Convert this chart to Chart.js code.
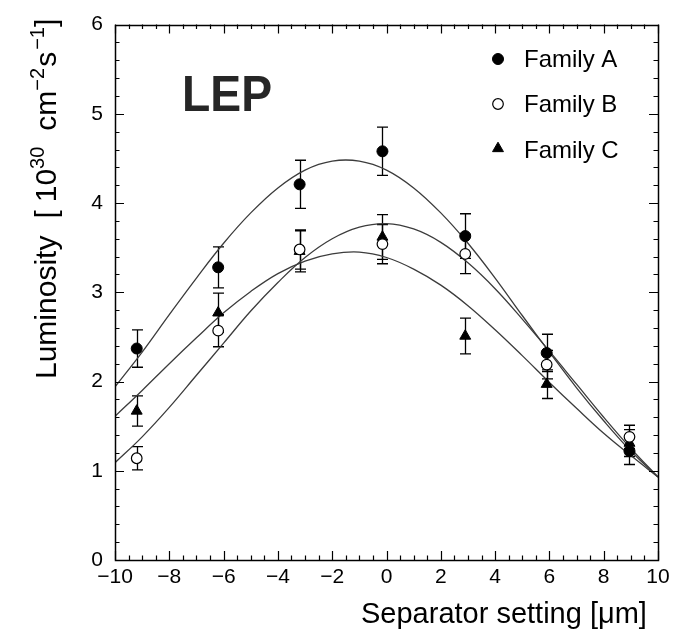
<!DOCTYPE html>
<html>
<head>
<meta charset="utf-8">
<script src="https://cdn.jsdelivr.net/npm/chart.js@4/dist/chart.umd.min.js"></script>
<style>
  html, body { margin: 0; padding: 0; background: #fff; }
  #wrap { width: 685px; height: 633px; }
</style>
</head>
<body>
<div id="wrap"><canvas id="c" width="685" height="633"></canvas></div>
<script>
// ---- data ----
const xPositions = [-9.2, -6.2, -3.2, -0.15, 2.9, 5.9, 8.95];
const familyA = [2.37, 3.28, 4.21, 4.58, 3.63, 2.32, 1.22];
const errA    = [0.21, 0.23, 0.27, 0.27, 0.25, 0.21, 0.15];
const familyB = [1.14, 2.57, 3.48, 3.54, 3.43, 2.19, 1.38];
const errB    = [0.13, 0.18, 0.22, 0.22, 0.22, 0.16, 0.13];
const familyC = [1.67, 2.77, 3.46, 3.62, 2.51, 1.97, 1.31];
const errC    = [0.17, 0.22, 0.23, 0.25, 0.20, 0.16, 0.15];

const fitX = [-10, -9, -8, -7, -6, -5, -4, -3, -2, -1, 0, 1, 2, 3, 4, 5, 6, 7, 8, 9, 10];
const fitA = [1.94, 2.33, 2.75, 3.16, 3.55, 3.89, 4.17, 4.37, 4.47, 4.47, 4.37, 4.17, 3.89, 3.55, 3.16, 2.74, 2.33, 1.93, 1.56, 1.22, 0.93];
const fitB = [1.09, 1.38, 1.71, 2.07, 2.43, 2.79, 3.11, 3.39, 3.60, 3.73, 3.77, 3.71, 3.56, 3.33, 3.04, 2.70, 2.34, 1.97, 1.60, 1.25, 0.93];
const fitC = [1.61, 1.90, 2.20, 2.49, 2.77, 3.01, 3.21, 3.35, 3.43, 3.45, 3.39, 3.26, 3.08, 2.85, 2.58, 2.29, 1.99, 1.70, 1.42, 1.17, 0.93];

const seriesNames = ['Family A', 'Family B', 'Family C'];
const xTickLabels = ['\u221210', '\u22128', '\u22126', '\u22124', '\u22122', '0', '2', '4', '6', '8', '10'];
const yTickLabels = ['0', '1', '2', '3', '4', '5', '6'];
const xTitle = 'Separator setting [\u03bcm]';
const yTitleParts = ['Luminosity', '[', '10', '30', 'cm', '\u22122', 's', '\u22121', ']'];
const panelLabel = 'LEP';

// ---- build datasets ----
const pts = (xs, ys) => xs.map((x, i) => ({ x: x, y: ys[i] }));
const FONT = "'Liberation Sans', Arial, Helvetica, sans-serif";
const CURVE = '#3c3c3c';

const markerStyles = [
  { pointStyle: 'circle', pointRadius: 5.5, backgroundColor: '#000', borderColor: '#000', borderWidth: 1 },
  { pointStyle: 'circle', pointRadius: 5.3, backgroundColor: '#fff', borderColor: '#000', borderWidth: 1.2 },
  { pointStyle: 'triangle', pointRadius: 6.3, backgroundColor: '#000', borderColor: '#000', borderWidth: 1 }
];
const seriesVals = [familyA, familyB, familyC];
const seriesErr = [errA, errB, errC];
const fits = [fitA, fitB, fitC];

const datasets = [];
seriesVals.forEach((vals, k) => {
  const m = markerStyles[k];
  datasets.push({
    label: seriesNames[k],
    data: pts(xPositions, vals),
    showLine: false,
    pointStyle: m.pointStyle,
    pointRadius: m.pointRadius,
    pointBackgroundColor: m.backgroundColor,
    pointBorderColor: m.borderColor,
    pointBorderWidth: m.borderWidth,
    pointHoverRadius: m.pointRadius
  });
});
fits.forEach((f, k) => {
  datasets.push({
    label: seriesNames[k] + ' fit',
    data: pts(fitX, f),
    showLine: true,
    pointRadius: 0,
    borderColor: CURVE,
    borderWidth: 1.3,
    tension: 0.4,
    fill: false
  });
});

function drawMarker(ctx, k, x, y) {
  const m = markerStyles[k];
  ctx.save();
  ctx.lineWidth = m.borderWidth;
  ctx.strokeStyle = m.borderColor;
  ctx.fillStyle = m.backgroundColor;
  ctx.beginPath();
  if (m.pointStyle === 'circle') {
    ctx.arc(x, y, m.pointRadius, 0, Math.PI * 2);
  } else {
    const r = m.pointRadius;
    ctx.moveTo(x, y - r);
    ctx.lineTo(x + r * Math.sin(Math.PI / 3), y + r * 0.5);
    ctx.lineTo(x - r * Math.sin(Math.PI / 3), y + r * 0.5);
    ctx.closePath();
  }
  ctx.fill();
  ctx.stroke();
  ctx.restore();
}

const decor = {
  id: 'decor',
  beforeDatasetsDraw(chart) {
    const ctx = chart.ctx, xs = chart.scales.x, ys = chart.scales.y;
    ctx.save();
    ctx.strokeStyle = '#000';
    ctx.lineWidth = 1.3;
    seriesVals.forEach((vals, k) => {
      vals.forEach((v, i) => {
        const e = seriesErr[k][i];
        const px = Math.round(xs.getPixelForValue(xPositions[i])) + 0.5;
        const y1 = ys.getPixelForValue(v - e);
        const y2 = ys.getPixelForValue(v + e);
        ctx.beginPath();
        ctx.moveTo(px, y1); ctx.lineTo(px, y2);
        ctx.moveTo(px - 5.5, y1); ctx.lineTo(px + 5.5, y1);
        ctx.moveTo(px - 5.5, y2); ctx.lineTo(px + 5.5, y2);
        ctx.stroke();
      });
    });
    ctx.restore();
  },
  afterDraw(chart) {
    const ctx = chart.ctx, xs = chart.scales.x, ys = chart.scales.y;
    const a = chart.chartArea;
    ctx.save();
    // ticks (inward, mirrored)
    ctx.strokeStyle = '#000';
    ctx.lineWidth = 1.2;
    ctx.beginPath();
    for (let k = -20; k <= 20; k++) {
      const px = Math.round(xs.getPixelForValue(k / 2)) + 0.5;
      const len = (k % 4 === 0) ? 9 : 4.5;
      ctx.moveTo(px, a.bottom); ctx.lineTo(px, a.bottom - len);
      ctx.moveTo(px, a.top); ctx.lineTo(px, a.top + len);
    }
    for (let k = 0; k <= 30; k++) {
      const py = Math.round(ys.getPixelForValue(k / 5)) + 0.5;
      const len = (k % 5 === 0) ? 9 : 4.5;
      ctx.moveTo(a.left, py); ctx.lineTo(a.left + len, py);
      ctx.moveTo(a.right, py); ctx.lineTo(a.right - len, py);
    }
    ctx.stroke();
    // frame
    ctx.lineWidth = 1.5;
    ctx.strokeRect(Math.round(a.left) + 0.5, Math.round(a.top) + 0.5,
                   Math.round(a.right - a.left), Math.round(a.bottom - a.top));

    // legend
    const legX = 498, legY = [59, 104, 148.5], legBase = [66.5, 112, 157.5];
    ctx.fillStyle = '#000';
    ctx.font = '24px ' + FONT;
    ctx.textAlign = 'left';
    ctx.textBaseline = 'alphabetic';
    seriesNames.forEach((n, k) => {
      drawMarker(ctx, k, legX, legY[k]);
      ctx.fillStyle = '#000';
      ctx.fillText(n, 524, legBase[k]);
    });

    // LEP label
    ctx.save();
    ctx.font = 'bold 50px ' + FONT;
    const w = ctx.measureText(panelLabel).width;
    ctx.translate(182, 111);
    ctx.scale(90 / w, 1);
    ctx.fillStyle = '#262626';
    ctx.fillText(panelLabel, 0, 0);
    ctx.restore();

    // x title
    ctx.font = '29px ' + FONT;
    ctx.fillStyle = '#000';
    ctx.fillText(xTitle, 361, 623);

    // y title (rotated), laid out piece by piece
    ctx.save();
    ctx.translate(56, 379);
    ctx.rotate(-Math.PI / 2);
    const big = '30px ' + FONT, sup = '20px ' + FONT;
    const fonts = [big, big, big, sup, big, sup, big, sup, big];
    const gaps = [0, 17, 8, 0, 16, 0, 1, 2, 0];
    const rise = [0, 0, 0, -12, 0, -12, 0, -12, 0];
    let pos = 0;
    yTitleParts.forEach((t, i) => {
      ctx.font = fonts[i];
      pos += gaps[i];
      ctx.fillText(t, pos, rise[i]);
      pos += ctx.measureText(t).width;
    });
    ctx.restore();
    ctx.restore();
  }
};

new Chart(document.getElementById('c'), {
  type: 'scatter',
  data: { datasets: datasets },
  options: {
    responsive: false,
    animation: false,
    devicePixelRatio: 1,
    layout: { padding: { left: 0, top: 13, right: 27, bottom: 0 } },
    plugins: { legend: { display: false }, tooltip: { enabled: false } },
    scales: {
      x: {
        type: 'linear', min: -10, max: 10,
        afterFit: s => { s.height = 73; },
        afterBuildTicks: s => { s.ticks = xTickLabels.map((_, i) => ({ value: -10 + 2 * i })); },
        ticks: {
          callback: (v, i) => xTickLabels[i],
          font: { family: FONT, size: 21 }, color: '#000', padding: 5, maxRotation: 0
        },
        grid: { display: false, drawTicks: false },
        border: { display: false }
      },
      y: {
        type: 'linear', min: 0, max: 6,
        afterFit: s => { s.width = 115; },
        afterBuildTicks: s => { s.ticks = yTickLabels.map((_, i) => ({ value: i })); },
        ticks: {
          callback: (v, i) => yTickLabels[i],
          font: { family: FONT, size: 21 }, color: '#000', padding: 12
        },
        grid: { display: false, drawTicks: false },
        border: { display: false }
      }
    }
  },
  plugins: [decor]
});
</script>
</body>
</html>
